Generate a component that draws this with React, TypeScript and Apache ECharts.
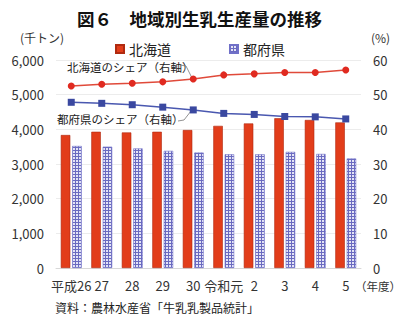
import React, { useEffect, useRef } from "react";
import * as echarts from "echarts";

const categories = ["平成26", "27", "28", "29", "30", "令和元", "2", "3", "4", "5"];
const hokkaido = [3836, 3930, 3910, 3930, 3980, 4100, 4170, 4320, 4270, 4200];
const tofuken = [3520, 3500, 3450, 3380, 3330, 3280, 3280, 3350, 3290, 3160];
const hokkaidoShare = [52.5, 53.0, 53.3, 53.7, 54.5, 55.7, 56.0, 56.4, 56.4, 57.1];
const tofukenShare = [47.8, 47.5, 47.1, 46.4, 45.6, 44.6, 44.3, 43.7, 43.6, 43.0];
const leftTicks = [0, 1000, 2000, 3000, 4000, 5000, 6000];

const FONT = "'Noto Sans CJK JP', 'Noto Sans', sans-serif";

function makePattern(): HTMLCanvasElement {
  const c = document.createElement("canvas");
  c.width = 3;
  c.height = 3;
  const ctx = c.getContext("2d")!;
  ctx.fillStyle = "#e4e4f6";
  ctx.fillRect(0, 0, 3, 3);
  ctx.fillStyle = "#6a6ac0";
  ctx.fillRect(0, 0, 3, 1);
  ctx.fillRect(0, 0, 1, 3);
  return c;
}

export default function App() {
  const ref = useRef<HTMLDivElement>(null);
  useEffect(() => {
    const chart = echarts.init(ref.current!, null, { renderer: "svg" });
    const pattern = { image: makePattern(), repeat: "repeat" };
    chart.setOption({
      animation: false,
      textStyle: { fontFamily: FONT },
      title: {
        text: "図６　地域別生乳生産量の推移",
        left: 72,
        top: 5,
        textStyle: { fontSize: 17.5, fontWeight: "bold", color: "#111", fontFamily: FONT },
      },
      legend: {
        data: [
          { name: "北海道", icon: "rect" },
          { name: "都府県", icon: "rect" },
        ],
        top: 37,
        left: 110,
        itemWidth: 8,
        itemHeight: 8,
        itemGap: 58,
        textStyle: { fontSize: 14, color: "#222", fontFamily: FONT },
      },
      grid: { left: 56, right: 39, top: 60, bottom: 54 },
      xAxis: {
        type: "category",
        data: categories,
        axisTick: { show: false },
        axisLine: { lineStyle: { color: "#d8d8d8" } },
        axisLabel: { interval: 0, fontSize: 13, color: "#333", margin: 11, fontFamily: FONT },
      },
      yAxis: [
        {
          type: "value",
          min: leftTicks[0],
          max: leftTicks[leftTicks.length - 1],
          interval: 1000,
          name: "(千トン)",
          nameGap: 17,
          nameTextStyle: { fontSize: 12, color: "#333", align: "right", padding: [0, -8, 0, 0] },
          axisLabel: {
            fontSize: 13,
            color: "#333",
            margin: 12,
            formatter: (v: number) => v.toLocaleString("en-US"),
          },
          splitLine: { lineStyle: { color: "#ececec" } },
          axisLine: { show: false },
          axisTick: { show: false },
        },
        {
          type: "value",
          min: 0,
          max: 60,
          interval: 10,
          name: "(%)",
          nameGap: 17,
          nameTextStyle: { fontSize: 12, color: "#333", align: "left", padding: [0, 0, 0, 10] },
          axisLabel: { fontSize: 13, color: "#333", margin: 12 },
          splitLine: { show: false },
          axisLine: { show: false },
          axisTick: { show: false },
        },
      ],
      series: [
        {
          name: "北海道",
          type: "bar",
          data: hokkaido,
          barWidth: 9.5,
          barGap: "20%",
          itemStyle: { color: "#e23d1a", borderColor: "#b02a10", borderWidth: 0.6 },
        },
        {
          name: "都府県",
          type: "bar",
          data: tofuken,
          barWidth: 9.5,
          itemStyle: { color: pattern, borderColor: "#7070c8", borderWidth: 0.6 },
        },
        {
          name: "北海道のシェア",
          type: "line",
          yAxisIndex: 1,
          data: hokkaidoShare,
          symbol: "circle",
          symbolSize: 7,
          lineStyle: { color: "#e04a3a", width: 1.5 },
          itemStyle: { color: "#e02a20" },
        },
        {
          name: "都府県のシェア",
          type: "line",
          yAxisIndex: 1,
          data: tofukenShare,
          symbol: "rect",
          symbolSize: 7,
          lineStyle: { color: "#4a58b0", width: 1.5 },
          itemStyle: { color: "#3a48a0" },
        },
      ],
      graphic: [
        {
          type: "text",
          left: 67,
          top: 61,
          style: { text: "北海道のシェア（右軸）", fontSize: 11.5, fill: "#222", fontFamily: FONT },
        },
        {
          type: "polyline",
          shape: { points: [[180, 65], [186, 66], [192, 78]] },
          style: { stroke: "#777", lineWidth: 0.8, fill: null },
        },
        {
          type: "text",
          left: 57,
          top: 113,
          style: { text: "都府県のシェア（右軸）", fontSize: 11.5, fill: "#222", fontFamily: FONT },
        },
        {
          type: "polyline",
          shape: { points: [[178, 121], [184, 120], [191, 111]] },
          style: { stroke: "#777", lineWidth: 0.8, fill: null },
        },
        {
          type: "text",
          left: 355,
          top: 280,
          style: { text: "（年度）", fontSize: 11.5, fill: "#333", fontFamily: FONT },
        },
        {
          type: "text",
          left: 55,
          top: 301,
          style: { text: "資料：農林水産省「牛乳乳製品統計」", fontSize: 12, fill: "#222", fontFamily: FONT },
        },
      ],
    });
    return () => chart.dispose();
  }, []);
  return <div ref={ref} style={{ width: 400, height: 322, position: "absolute", left: 0, top: 0 }} />;
}
